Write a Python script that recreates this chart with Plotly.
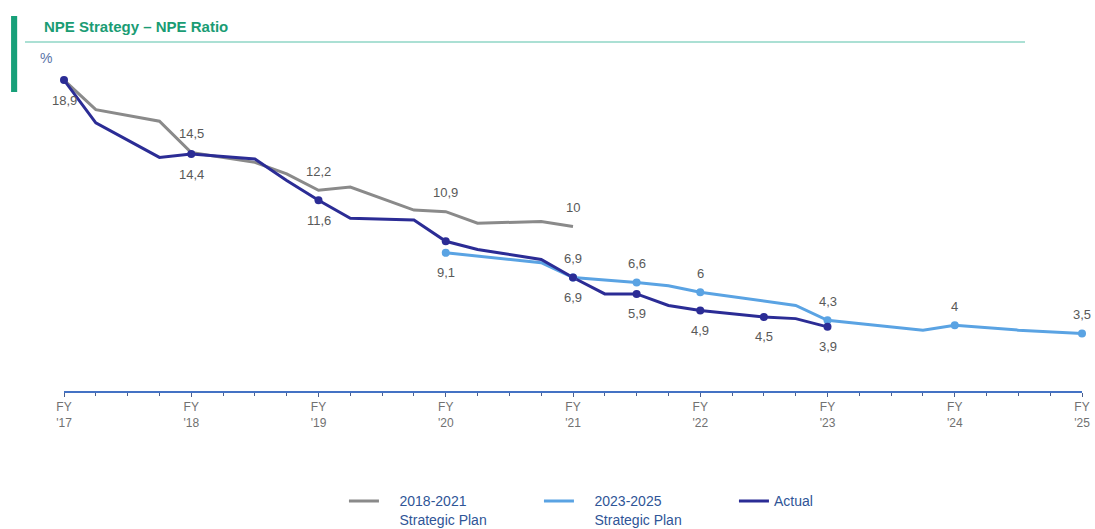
import plotly.graph_objects as go

# ---------------- data ----------------
# x values are fiscal years, quarterly steps (2017.25 = FY'17 + 1 quarter)
plan18_x = [2017, 2017.25, 2017.75, 2018, 2018.5, 2018.75, 2019, 2019.25, 2019.75, 2020, 2020.25, 2020.75, 2021]
plan18_y = [18.9, 17.1, 16.4, 14.5, 13.9, 13.2, 12.2, 12.4, 11.0, 10.9, 10.2, 10.3, 10.0]
plan18_labels = [None, None, None, "14,5", None, None, "12,2", None, None, "10,9", None, None, "10"]

plan23_x = [2020, 2020.75, 2021, 2021.5, 2021.75, 2022, 2022.75, 2023, 2023.75, 2024, 2024.5, 2025]
plan23_y = [8.4, 7.8, 6.9, 6.6, 6.4, 6.0, 5.2, 4.3, 3.7, 4.0, 3.7, 3.5]
plan23_labels = ["9,1", None, "6,9", "6,6", None, "6", None, "4,3", None, "4", None, "3,5"]

actual_x = [2017, 2017.25, 2017.75, 2018, 2018.5, 2018.75, 2019, 2019.25, 2019.75, 2020, 2020.25,
            2020.75, 2021, 2021.25, 2021.5, 2021.75, 2022, 2022.5, 2022.75, 2023]
actual_y = [18.9, 16.3, 14.2, 14.4, 14.1, 12.8, 11.6, 10.5, 10.4, 9.1, 8.6,
            8.0, 6.9, 5.9, 5.9, 5.2, 4.9, 4.5, 4.4, 3.9]
actual_labels = ["18,9", None, None, "14,4", None, None, "11,6", None, None, "", None,
                 None, "6,9", None, "5,9", None, "4,9", "4,5", None, "3,9"]

tick_years = [2017, 2018, 2019, 2020, 2021, 2022, 2023, 2024, 2025]
tick_text = ["FY<br>'17", "FY<br>'18", "FY<br>'19", "FY<br>'20", "FY<br>'21",
             "FY<br>'22", "FY<br>'23", "FY<br>'24", "FY<br>'25"]

names = ["2018-2021<br>Strategic Plan", "2023-2025<br>Strategic Plan", "Actual"]

# ---------------- styles ----------------
GRAY = "#8a8a8a"
LIGHT = "#5aa3e3"
DARK = "#2b2c95"
LABEL_COLOR = "#595959"
FONT = "Liberation Sans, Arial, sans-serif"
PAD = "&nbsp;" * 4


def legend_name(n):
    return "<br>".join(PAD + part for part in n.split("<br>"))


fig = go.Figure()


def labelled(xs, ys, labels):
    pts = [(x, y) for x, y, lab in zip(xs, ys, labels) if lab is not None]
    return [p[0] for p in pts], [p[1] for p in pts]


fig.add_trace(go.Scatter(x=plan18_x, y=plan18_y, mode="lines", name=legend_name(names[0]),
                         line=dict(color=GRAY, width=3), cliponaxis=False))
fig.add_trace(go.Scatter(x=plan23_x, y=plan23_y, mode="lines", name=legend_name(names[1]),
                         line=dict(color=LIGHT, width=3), cliponaxis=False))
fig.add_trace(go.Scatter(x=actual_x, y=actual_y, mode="lines", name=names[2],
                         line=dict(color=DARK, width=3), cliponaxis=False))

mx, my = labelled(plan23_x, plan23_y, plan23_labels)
fig.add_trace(go.Scatter(x=mx, y=my, mode="markers", showlegend=False,
                         marker=dict(size=8, color=LIGHT), cliponaxis=False))
mx, my = labelled(actual_x, actual_y, actual_labels)
fig.add_trace(go.Scatter(x=mx, y=my, mode="markers", showlegend=False,
                         marker=dict(size=8, color=DARK), cliponaxis=False))

annotations = []


def add_labels(xs, ys, labels, side_fn):
    for i, (x, y, lab) in enumerate(zip(xs, ys, labels)):
        if not lab:
            continue
        shift = 19 if side_fn(i) == "above" else -20
        annotations.append(dict(x=x, y=y, xref="x", yref="y", text=lab, showarrow=False,
                                yshift=shift, font=dict(size=13, color=LABEL_COLOR, family=FONT)))


add_labels(plan18_x, plan18_y, plan18_labels, lambda i: "above")
add_labels(plan23_x, plan23_y, plan23_labels, lambda i: "below" if i == 0 else "above")
add_labels(actual_x, actual_y, actual_labels, lambda i: "below")

# title, "%" unit
annotations.append(dict(x=-0.0216, y=1.1064, xref="paper", yref="paper", xanchor="left",
                        yanchor="middle", showarrow=False,
                        text="<b>NPE Strategy – NPE Ratio</b>",
                        font=dict(size=15, color="#1a9c74",
                                  family="Liberation Sans Narrow, Arial Narrow, Liberation Sans, Arial")))
annotations.append(dict(x=-0.0255, y=1.012, xref="paper", yref="paper", xanchor="left",
                        yanchor="middle", showarrow=False, text="%",
                        font=dict(size=14, color="#5a74a8", family=FONT)))

shapes = [
    dict(type="rect", xref="paper", yref="paper", x0=-0.052, x1=-0.046, y0=0.9088, y1=1.1398,
         fillcolor="#17a079", line=dict(width=0)),
    dict(type="line", xref="paper", yref="paper", x0=-0.0383, x1=0.944, y0=1.0608, y1=1.0608,
         line=dict(color="#8fd6c6", width=1.5)),
]

fig.update_layout(
    width=1095, height=529,
    margin=dict(l=64, r=13, t=62, b=138, autoexpand=False),
    paper_bgcolor="white", plot_bgcolor="white",
    font=dict(family=FONT, color=LABEL_COLOR),
    showlegend=True,
    legend=dict(orientation="h", x=0.275, y=-0.287, xanchor="left", yanchor="top",
                font=dict(size=14, color="#2f5597", family=FONT), valign="top",
                entrywidth=150, entrywidthmode="pixels",
                bgcolor="rgba(0,0,0,0)"),
    annotations=annotations,
    shapes=shapes,
    hovermode=False,
)

fig.update_xaxes(range=[2017, 2025], tickvals=tick_years, ticktext=tick_text, automargin=False,
                 showgrid=False, zeroline=False, showline=True, linecolor="#4472c4", linewidth=2,
                 ticks="outside", ticklen=4, tickcolor="#4a5f8f", tickwidth=1,
                 tickfont=dict(size=12, color="#717171", family=FONT),
                 minor=dict(dtick=0.25, tick0=2017, ticks="outside", ticklen=3, tickcolor="#4a5f8f"))
fig.update_yaxes(range=[0, 20], visible=False, showgrid=False, zeroline=False, automargin=False)

fig.write_html("out.html", config={"displayModeBar": False},
               post_script="document.body.style.margin='0';document.body.style.padding='0';")
